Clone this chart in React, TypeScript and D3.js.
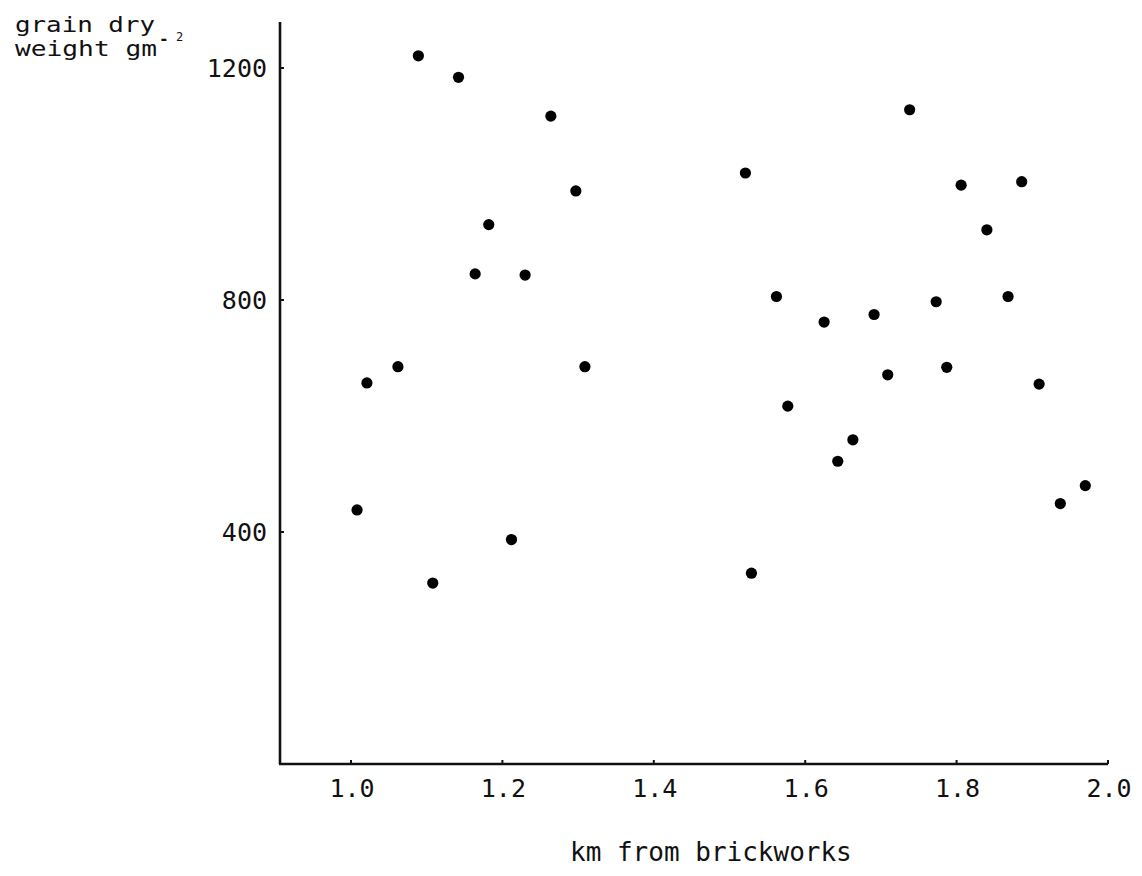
import React from "react";
import * as d3 from "d3";

// Distance of each sampled plot from the brickworks (km)
const distanceKm = [
  1.089, 1.142, 1.264, 1.297, 1.182, 1.164, 1.23, 1.062, 1.309, 1.021, 1.008,
  1.212, 1.108, 1.738, 1.521, 1.806, 1.886, 1.84, 1.562, 1.625, 1.691, 1.773,
  1.868, 1.709, 1.787, 1.909, 1.577, 1.663, 1.643, 1.97, 1.937, 1.529,
];

// Grain dry weight at each plot (g m^-2)
const grainWeight = [
  1221, 1184, 1117, 988, 930, 845, 843, 685, 685, 657, 438, 387, 312, 1128,
  1019, 998, 1004, 921, 806, 762, 775, 797, 806, 671, 684, 655, 617, 559, 522,
  480, 449, 329,
];

const xTickValues = [1.0, 1.2, 1.4, 1.6, 1.8, 2.0];
const yTickValues = [400, 800, 1200];

const W = 1142;
const H = 876;
const FONT = "'DejaVu Sans Mono', monospace";

export default function App() {
  const x = d3.scaleLinear().domain([1.0, 2.0]).range([351, 1108]);
  const y = d3.scaleLinear().domain([0, 1200]).range([764, 68]);

  const axisX0 = 280;
  const axisY0 = y(0);
  const axisTop = 22;

  return (
    <svg
      width={W}
      height={H}
      viewBox={`0 0 ${W} ${H}`}
      style={{ position: "absolute", left: 0, top: 0, background: "#fff" }}
    >
      {/* y axis */}
      <line x1={axisX0} y1={axisTop} x2={axisX0} y2={axisY0} stroke="#111" strokeWidth={2.6} />
      {yTickValues.map((v) => (
        <g key={`yt${v}`}>
          <line x1={axisX0} x2={axisX0 + 4} y1={y(v)} y2={y(v)} stroke="#111" strokeWidth={2} />
          <text
            x={267}
            y={y(v) + 9}
            textAnchor="end"
            fontFamily={FONT}
            fontSize={25}
            fill="#111"
          >
            {String(v)}
          </text>
        </g>
      ))}

      {/* x axis */}
      <line x1={axisX0 - 1} y1={axisY0} x2={x(2.0)} y2={axisY0} stroke="#111" strokeWidth={2.6} />
      {xTickValues.map((v) => (
        <g key={`xt${v}`}>
          <line x1={x(v)} x2={x(v)} y1={axisY0} y2={axisY0 - 4} stroke="#111" strokeWidth={2} />
          <text
            x={x(v) + 1}
            y={797}
            textAnchor="middle"
            fontFamily={FONT}
            fontSize={25}
            fill="#111"
          >
            {v.toFixed(1)}
          </text>
        </g>
      ))}

      {/* points */}
      {distanceKm.map((d, i) => (
        <circle key={i} cx={x(d)} cy={y(grainWeight[i])} r={5.6} fill="#000" />
      ))}

      {/* y axis title, two lines with the unit's exponent raised */}
      <text
        x={15}
        y={32}
        fontFamily={FONT}
        fontSize={21}
        textLength={140}
        lengthAdjust="spacingAndGlyphs"
        fill="#111"
      >
        grain dry
      </text>
      <text
        x={15}
        y={56}
        fontFamily={FONT}
        fontSize={21}
        textLength={142}
        lengthAdjust="spacingAndGlyphs"
        fill="#111"
      >
        weight gm
      </text>
      <text x={159} y={44} fontFamily={FONT} fontSize={16} fontWeight="bold" fill="#111">
        -
      </text>
      <text x={176} y={41} fontFamily={FONT} fontSize={12} fill="#111">
        2
      </text>

      {/* x axis title */}
      <text x={570} y={861} fontFamily={FONT} fontSize={26} fill="#111">
        km from brickworks
      </text>
    </svg>
  );
}
